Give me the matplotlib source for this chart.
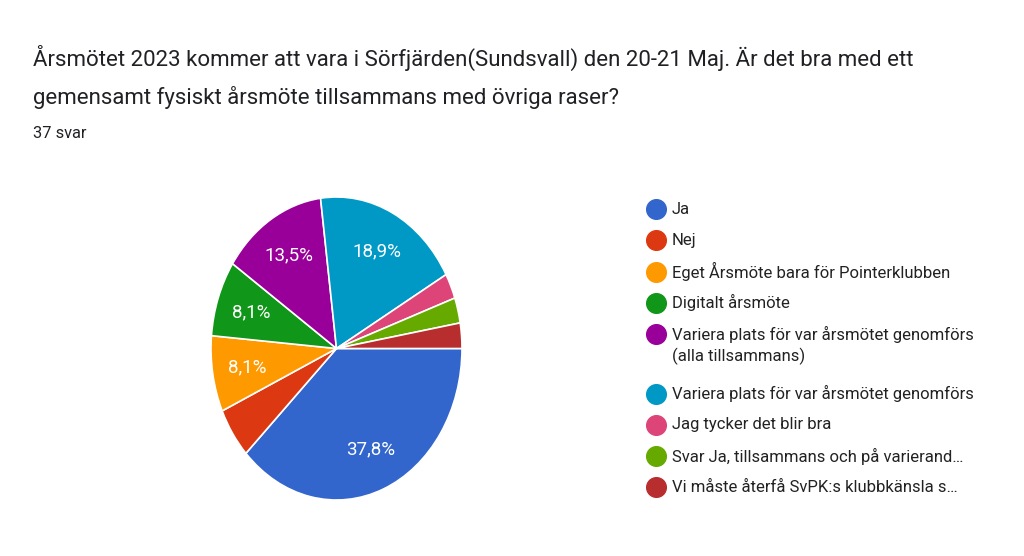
import matplotlib.pyplot as plt

plt.rcParams['font.family'] = ['Roboto', 'DejaVu Sans']

title = ("Årsmötet 2023 kommer att vara i Sörfjärden(Sundsvall) den 20-21 Maj. Är det bra med ett\n"
         "gemensamt fysiskt årsmöte tillsammans med övriga raser?")
subtitle = "37 svar"

labels = [
    "Ja",
    "Nej",
    "Eget Årsmöte bara för Pointerklubben",
    "Digitalt årsmöte",
    "Variera plats för var årsmötet genomförs\n(alla tillsammans)",
    "Variera plats för var årsmötet genomförs",
    "Jag tycker det blir bra",
    "Svar Ja, tillsammans och på varierand…",
    "Vi måste återfå SvPK:s klubbkänsla s…",
]
counts = [14, 2, 3, 3, 5, 7, 1, 1, 1]
colors = ['#3366cc', '#dc3912', '#ff9900', '#109618', '#990099',
          '#0099c6', '#dd4477', '#66aa00', '#b82e2e']

W, H = 1024, 556
fig = plt.figure(figsize=(W / 100, H / 100), dpi=100)

# pie axes (the reference pie is stretched vertically)
ax = fig.add_axes([211 / W, (H - 500) / H, 251 / W, 303 / H])


def pct(p):
    if p < 7:
        return ''
    return f'{p:.1f}%'.replace('.', ',')


wedges, texts, autotexts = ax.pie(
    counts, colors=colors, startangle=0, counterclock=False,
    autopct=pct, pctdistance=0.72,
    wedgeprops=dict(edgecolor='white', linewidth=1.2),
    textprops=dict(color='white', fontsize=13.5))
ax.set_aspect('auto')
ax.set_xlim(-1, 1)
ax.set_ylim(-1, 1)

# title and response count
fig.text(33 / W, 1 - 45 / H, title, fontsize=16, color='#202124',
         va='top', ha='left', linespacing=1.8)
fig.text(33 / W, 1 - 133 / H, subtitle, fontsize=11.8, color='#202124',
         va='center', ha='left')

# legend
lax = fig.add_axes([0, 0, 1, 1])
lax.set_xlim(0, W)
lax.set_ylim(H, 0)
lax.axis('off')
y = 209
for lab, col in zip(labels, colors):
    lax.scatter([656], [y], s=200, color=col, zorder=3)
    for k, line in enumerate(lab.split('\n')):
        lax.text(672, y + 22 * k, line, fontsize=12, color='#222222',
                 va='center', ha='left')
    y += 31.3 + 28 * lab.count('\n')

fig.savefig('out.png', dpi=100, facecolor='white')
